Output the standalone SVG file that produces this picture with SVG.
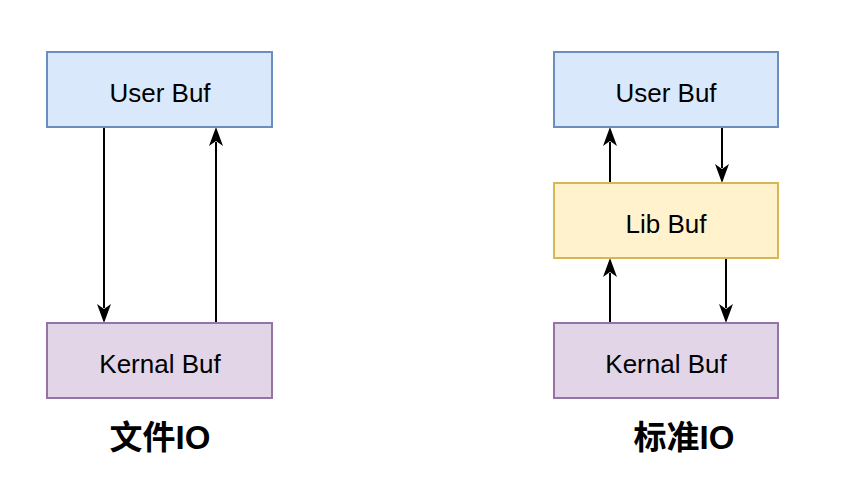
<svg xmlns="http://www.w3.org/2000/svg" width="842" height="491" viewBox="0 0 842 491">
<defs>
<style>
.blue{fill:#dae8fc;stroke:#6c8ebf;stroke-width:2}
.purple{fill:#e1d5e7;stroke:#9673a6;stroke-width:2}
.yellow{fill:#fff2cc;stroke:#d6b656;stroke-width:2}
.lbl{font-family:"Liberation Sans",Arial,sans-serif;font-size:26px;fill:#000;text-anchor:middle}
.title{font-family:"Liberation Sans","Noto Sans CJK SC",sans-serif;font-size:33px;font-weight:bold;fill:#000;text-anchor:middle}
.line{stroke:#000;stroke-width:2;fill:none}
.head{fill:#000}
</style>
</defs>
<rect width="842" height="491" fill="#fff"/>
<g id="connectors">
<path class="line" d="M104,127 V308"/>
<path class="head" d="M97,304 L104,323 L111,304 L104,309 Z"/>
<path class="line" d="M216,323 V142"/>
<path class="head" d="M209,146 L216,127 L223,146 L216,141 Z"/>
<path class="line" d="M610,183 V142"/>
<path class="head" d="M603,146 L610,127 L617,146 L610,141 Z"/>
<path class="line" d="M722,127 V168"/>
<path class="head" d="M715,164 L722,183 L729,164 L722,169 Z"/>
<path class="line" d="M610,323 V273"/>
<path class="head" d="M603,277 L610,258 L617,277 L610,272 Z"/>
<path class="line" d="M726,258 V308"/>
<path class="head" d="M719,304 L726,323 L733,304 L726,309 Z"/>
</g>
<g id="user-left"><rect class="blue" x="47" y="52" width="225" height="75"/><text class="lbl" x="160" y="102">User Buf</text></g>
<g id="kernal-left"><rect class="purple" x="47" y="323" width="225" height="75"/><text class="lbl" x="160" y="373">Kernal Buf</text></g>
<g id="user-right"><rect class="blue" x="554" y="52" width="224" height="75"/><text class="lbl" x="666" y="102">User Buf</text></g>
<g id="lib-right"><rect class="yellow" x="554" y="183" width="224" height="75"/><text class="lbl" x="666" y="233">Lib Buf</text></g>
<g id="kernal-right"><rect class="purple" x="554" y="323" width="224" height="75"/><text class="lbl" x="666" y="373">Kernal Buf</text></g>
<g id="title-left"><text class="title" x="160" y="449">文件IO</text></g>
<g id="title-right"><text class="title" x="684" y="449">标准IO</text></g>
</svg>
